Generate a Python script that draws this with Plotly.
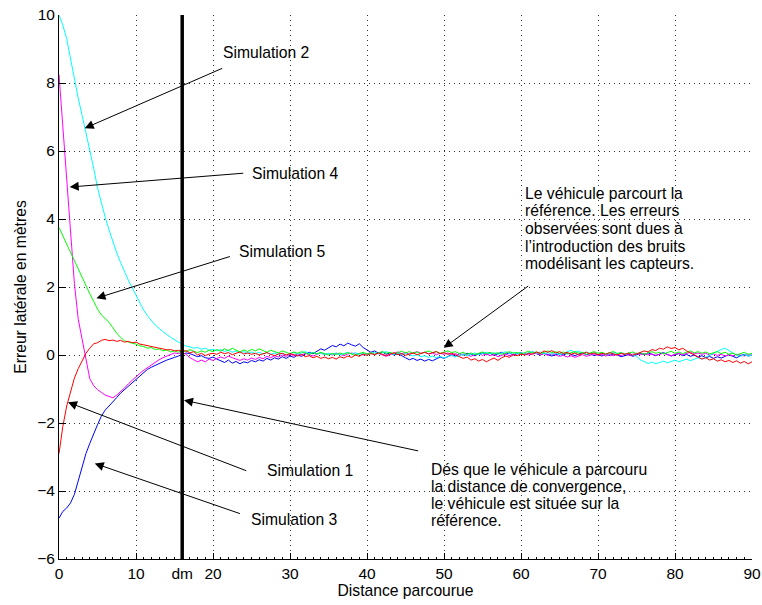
import plotly.graph_objects as go

# ---------------- data ----------------
step = 0.5
distance = [i * step for i in range(181)]  # 0 .. 90
dm = 16

sim1_start = [-2.9, -2.1, -1.5, -1.05, -0.68, -0.4, -0.18, 0.05, 0.2, 0.33,
              0.36, 0.43, 0.46, 0.42, 0.44, 0.4, 0.43, 0.38, 0.4, 0.36,
              0.38, 0.32, 0.3, 0.27, 0.25, 0.22, 0.2, 0.18, 0.15, 0.16,
              0.12, 0.14, 0.1, 0.13, 0.06, 0.1, 0.0, 0.05, -0.02, 0.03, 0.05]
sim1_rest = [0.02, 0.08, 0.04, 0.07, 0.01, 0.05, 0.09, 0.03, 0.06, 0.02,
             0.05, 0.0, 0.04, 0.07, 0.02, -0.02, 0.03, 0.05, 0.0, 0.04,
             0.01, -0.03, 0.02, -0.05, -0.02, -0.08, -0.04, -0.1, -0.06, -0.11,
             -0.07, -0.12, -0.05, -0.09, -0.03, -0.07, 0.0, -0.04, 0.03, -0.01,
             0.04, 0.01, 0.06, 0.02, -0.02, 0.03, 0.07, 0.01, 0.04, -0.01,
             0.03, 0.06, 0.01, 0.05, 0.08, 0.03, 0.06, 0.1, 0.04, 0.07,
             0.02, 0.05, 0.0, -0.04, -0.1, -0.06, -0.15, -0.11, -0.18, -0.13,
             -0.2, -0.14, -0.09, -0.16, -0.08, -0.03, -0.07, 0.01, -0.02, 0.03,
             0.0, 0.05, 0.02, 0.09, 0.05, 0.12, 0.08, 0.13, 0.06, 0.1,
             0.04, 0.08, 0.02, 0.06, 0.0, 0.04, 0.08, 0.03, 0.06, 0.01,
             0.05, 0.02, 0.07, 0.03, 0.0, 0.05, 0.02, 0.06, -0.01, 0.03,
             0.07, 0.12, 0.09, 0.16, 0.13, 0.2, 0.17, 0.24, 0.19, 0.22,
             0.15, 0.2, 0.12, 0.06, 0.0, -0.06, -0.12, -0.08, -0.15, -0.11,
             -0.18, -0.14, -0.2, -0.16, -0.22, -0.17, -0.24, -0.19, -0.26, -0.2]

sim2_start = [10.0, 9.7, 9.3, 8.7, 8.1, 7.55, 7.05, 6.55, 6.05, 5.5,
              4.92, 4.45, 4.05, 3.68, 3.32, 3.0, 2.72, 2.45, 2.2, 1.98,
              1.75, 1.52, 1.32, 1.15, 1.0, 0.88, 0.78, 0.68, 0.6, 0.52,
              0.44, 0.38, 0.32, 0.26, 0.24, 0.2, 0.22, 0.17, 0.2, 0.14, 0.17]
sim2_rest = [0.12, 0.16, 0.1, 0.14, 0.08, 0.12, 0.06, 0.1, 0.05, 0.09,
             0.04, 0.08, 0.03, 0.07, 0.02, 0.06, 0.01, 0.05, 0.0, 0.04,
             0.07, 0.02, 0.06, 0.1, 0.04, 0.08, 0.03, 0.06, 0.01, 0.05,
             0.02, 0.06, 0.0, 0.04, 0.08, 0.03, 0.07, 0.02, 0.05, 0.0,
             0.04, 0.08, 0.03, 0.06, 0.1, 0.05, 0.02, 0.06, 0.01, 0.04,
             0.0, -0.03, 0.01, -0.05, -0.02, -0.07, -0.03, -0.08, -0.04, -0.09,
             -0.05, -0.01, -0.06, -0.02, 0.02, -0.02, 0.03, 0.06, 0.01, 0.05,
             0.08, 0.03, 0.07, 0.02, 0.06, 0.1, 0.04, 0.08, 0.03, 0.07,
             0.02, 0.06, 0.1, 0.05, 0.09, 0.03, 0.07, 0.02, 0.06, 0.0,
             0.04, 0.09, 0.14, 0.08, 0.12, 0.05, 0.09, 0.03, 0.07, 0.02,
             0.06, 0.01, 0.05, 0.09, 0.04, 0.07, 0.02, 0.06, 0.0, -0.04,
             -0.14, -0.2, -0.25, -0.21, -0.26, -0.22, -0.18, -0.23, -0.19, -0.15,
             -0.2, -0.16, -0.12, -0.17, -0.13, -0.08, -0.12, -0.06, -0.02, 0.04,
             0.1, 0.16, 0.2, 0.12, 0.06, 0.0, -0.04, 0.01, -0.03, 0.0]

sim3_start = [-4.8, -4.6, -4.5, -4.35, -4.1, -3.7, -3.25, -2.9, -2.6, -2.3,
              -2.05, -1.8, -1.62, -1.5, -1.36, -1.25, -1.12, -1.02, -0.9, -0.8,
              -0.72, -0.6, -0.52, -0.42, -0.36, -0.3, -0.24, -0.2, -0.15, -0.1,
              -0.07, -0.03, 0.02, 0.06, 0.04, 0.0, -0.05, -0.02, -0.08, -0.1, -0.06]
sim3_rest = [-0.12, -0.18, -0.22, -0.15, -0.24, -0.19, -0.26, -0.2, -0.23, -0.16,
             -0.2, -0.14, -0.18, -0.1, -0.15, -0.08, -0.12, -0.05, -0.1, -0.03,
             -0.07, 0.0, -0.04, 0.03, 0.08, 0.04, 0.12, 0.18, 0.14, 0.22,
             0.28, 0.24, 0.32, 0.27, 0.35, 0.3, 0.26, 0.33, 0.22, 0.15,
             0.08, 0.12, 0.05, 0.09, 0.02, 0.06, 0.0, 0.04, -0.03, -0.08,
             -0.14, -0.1, -0.16, -0.12, -0.18, -0.13, -0.17, -0.11, -0.06, -0.1,
             -0.04, 0.01, -0.03, 0.04, 0.0, 0.05, 0.02, -0.02, 0.03, 0.06,
             0.01, 0.05, -0.01, 0.04, 0.08, 0.02, 0.06, 0.0, 0.04, 0.07,
             0.02, 0.06, 0.09, 0.04, 0.0, 0.05, 0.02, -0.03, 0.01, 0.04,
             0.0, 0.05, 0.02, -0.02, 0.03, 0.06, 0.01, 0.04, -0.02, 0.02,
             -0.03, 0.02, -0.01, 0.03, 0.0, -0.05, -0.02, 0.02, -0.04, 0.01,
             0.05, 0.01, 0.06, 0.02, -0.02, 0.03, 0.07, 0.02, -0.03, 0.01,
             0.04, -0.02, 0.02, -0.04, 0.0, -0.06, -0.02, -0.08, -0.04, -0.1,
             -0.05, -0.09, -0.03, 0.01, -0.04, -0.08, -0.02, 0.02, -0.03, 0.0]

sim4_start = [8.25, 6.7, 5.4, 3.7, 2.1, 1.05, 0.45, -0.2, -0.7, -0.9,
              -1.02, -1.1, -1.18, -1.22, -1.26, -1.18, -1.08, -0.97, -0.85, -0.74,
              -0.64, -0.54, -0.45, -0.37, -0.28, -0.22, -0.14, -0.08, -0.03, 0.02,
              0.06, 0.04, 0.08, 0.02, -0.08, -0.14, -0.2, -0.15, -0.2, -0.12, -0.16]
sim4_rest = [-0.1, -0.06, -0.1, -0.03, -0.08, -0.12, -0.16, -0.11, -0.15, -0.09,
             -0.13, -0.07, -0.11, -0.04, -0.08, -0.02, -0.06, 0.0, -0.04, 0.02,
             -0.02, 0.03, 0.0, 0.05, 0.01, -0.03, 0.02, 0.06, 0.01, 0.04,
             0.0, 0.05, 0.02, -0.02, 0.03, 0.06, 0.02, 0.05, 0.0, 0.04,
             0.07, 0.02, 0.05, 0.0, -0.04, 0.01, 0.05, 0.09, 0.04, 0.07,
             0.02, 0.06, 0.1, 0.05, 0.08, 0.03, 0.06, 0.01, 0.05, 0.02,
             0.06, 0.01, 0.04, -0.01, 0.03, 0.0, -0.04, 0.01, 0.04, -0.01,
             0.03, -0.02, 0.02, -0.05, -0.01, 0.03, -0.02, 0.02, 0.05, 0.01,
             0.04, 0.0, 0.03, 0.06, 0.01, 0.04, -0.01, 0.03, 0.0, -0.04,
             -0.01, -0.06, -0.02, -0.07, -0.03, 0.01, -0.04, 0.0, 0.03, -0.01,
             0.02, -0.03, 0.01, -0.02, 0.02, -0.02, 0.03, -0.01, 0.02, 0.05,
             0.01, 0.04, 0.0, 0.03, -0.01, 0.02, 0.05, 0.01, -0.02, 0.02,
             0.05, 0.01, 0.04, 0.08, 0.03, 0.06, 0.02, 0.05, 0.0, 0.03,
             -0.01, 0.02, -0.03, 0.01, -0.02, 0.02, 0.0, -0.03, 0.01, -0.01]

sim5_start = [3.75, 3.5, 3.28, 3.05, 2.75, 2.52, 2.28, 2.05, 1.8, 1.58,
              1.35, 1.18, 1.06, 0.96, 0.8, 0.64, 0.52, 0.42, 0.38, 0.36,
              0.32, 0.27, 0.25, 0.2, 0.22, 0.16, 0.18, 0.12, 0.15, 0.09,
              0.12, 0.08, 0.13, 0.1, 0.16, 0.11, 0.07, 0.12, 0.08, 0.14, 0.1]
sim5_rest = [0.16, 0.11, 0.18, 0.13, 0.2, 0.14, 0.09, 0.15, 0.1, 0.17,
             0.12, 0.18, 0.13, 0.08, 0.14, 0.1, 0.06, 0.12, 0.08, 0.04,
             0.09, 0.05, 0.1, 0.06, 0.02, 0.07, 0.03, 0.08, 0.04, 0.0,
             0.05, 0.01, 0.06, 0.02, 0.07, 0.03, -0.01, 0.04, 0.08, 0.03,
             0.07, 0.02, 0.06, 0.1, 0.05, 0.08, 0.03, 0.07, 0.11, 0.06,
             0.1, 0.05, 0.09, 0.04, 0.08, 0.12, 0.07, 0.1, 0.05, 0.09,
             0.12, 0.07, 0.1, 0.04, 0.08, 0.02, 0.06, 0.01, 0.05, 0.09,
             0.04, 0.08, 0.03, 0.07, 0.02, 0.06, 0.1, 0.05, 0.08, 0.03,
             0.07, 0.11, 0.06, 0.09, 0.04, 0.08, 0.12, 0.07, 0.1, 0.05,
             0.09, 0.03, 0.07, 0.1, 0.05, 0.08, 0.02, 0.06, 0.1, 0.05,
             0.08, 0.03, 0.06, 0.1, 0.04, 0.07, 0.02, 0.05, 0.09, 0.04,
             0.07, 0.02, 0.06, 0.1, 0.05, 0.08, 0.03, 0.07, 0.11, 0.05,
             0.09, 0.04, 0.08, 0.12, 0.06, 0.1, 0.05, 0.09, 0.03, 0.07,
             0.1, 0.04, 0.08, 0.02, 0.06, 0.0, 0.04, 0.08, 0.02, 0.05]

x_tick_vals = [0, 10, dm, 20, 30, 40, 50, 60, 70, 80, 90]
x_tick_text = ["0", "10", "dm", "20", "30", "40", "50", "60", "70", "80", "90"]

series = [
    ("Simulation 3", sim3_start + sim3_rest, "#0000FF"),
    ("Simulation 4", sim4_start + sim4_rest, "#FF00FF"),
    ("Simulation 2", sim2_start + sim2_rest, "#00FFFF"),
    ("Simulation 5", sim5_start + sim5_rest, "#00FF00"),
    ("Simulation 1", sim1_start + sim1_rest, "#FF0000"),
]

FONT = "Liberation Sans, Arial, Helvetica, sans-serif"
ANN_SIZE = 15.7

fig = go.Figure()
for name, vals, col in series:
    fig.add_trace(go.Scatter(x=distance, y=vals, mode="lines", name=name,
                             line=dict(color=col, width=1)))

fig.add_trace(go.Scatter(x=[dm, dm], y=[-6, 10], mode="lines",
                         line=dict(color="black", width=3.5), name="dm"))

# arrows: (head_x, head_y, tail_x, tail_y)
arrows = [
    (3.34, 6.67, 21.39, 8.45),
    (1.39, 4.94, 24.12, 5.35),
    (4.86, 1.67, 22.39, 2.91),
    (1.17, -1.39, 24.51, -3.42),
    (4.64, -3.19, 23.69, -4.68),
    (16.23, -1.33, 46.84, -2.83),
    (49.96, 0.21, 61.13, 2.06),
]
annotations = []
for hx, hy, tx, ty in arrows:
    annotations.append(dict(x=hx, y=hy, ax=tx, ay=ty, xref="x", yref="y",
                            axref="x", ayref="y", text="", showarrow=True,
                            arrowhead=2, arrowsize=1.8, arrowwidth=1,
                            arrowcolor="black", standoff=0))

labels = [
    ("Simulation 2", 21.09, 8.89),
    ("Simulation 4", 24.77, 5.35),
    ("Simulation 5", 23.12, 3.04),
    ("Simulation 1", 26.71, -3.41),
    ("Simulation 3", 24.68, -4.85),
]
block1 = ["Le véhicule parcourt la", "référence. Les erreurs",
          "observées sont dues à", "l’introduction des bruits",
          "modélisant les capteurs."]
block1_y = [4.76, 4.24, 3.72, 3.20, 2.68]
block2 = ["Dés que le véhicule a parcouru", "la distance de convergence,",
          "le véhicule est située sur la", "référence."]
block2_y = [-3.36, -3.86, -4.36, -4.86]

def text_ann(t, x, y):
    return dict(x=x, y=y, text=t, showarrow=False, xanchor="left",
                yanchor="middle", xref="x", yref="y",
                font=dict(size=ANN_SIZE, family=FONT, color="black"))

for t, x, y in labels:
    annotations.append(text_ann(t, x, y))
for t, y in zip(block1, block1_y):
    annotations.append(text_ann(t, 60.26, y))
for t, y in zip(block2, block2_y):
    annotations.append(text_ann(t, 48.05, y))

fig.update_layout(
    width=762, height=605,
    margin=dict(l=59, r=10, t=15, b=46),
    plot_bgcolor="white", paper_bgcolor="white",
    showlegend=False,
    font=dict(family=FONT, size=15, color="black"),
    annotations=annotations,
)
grid_kw = dict(showgrid=True, gridcolor="#333333", griddash="1px,4px", gridwidth=1,
               zeroline=False, showline=True, linecolor="black", linewidth=1,
               ticks="inside", tickcolor="black", automargin=False)
fig.update_xaxes(range=[0, 90], tickvals=x_tick_vals, ticktext=x_tick_text,
                 ticklen=6,
                 minor=dict(ticks="inside", ticklen=2, dtick=1, tickcolor="black",
                            showgrid=False),
                 title=dict(text="Distance parcourue", font=dict(size=ANN_SIZE), standoff=4),
                 tickfont=dict(size=15.5), **grid_kw)
fig.update_yaxes(range=[-6, 10], dtick=2, ticklen=7,
                 title=dict(text="Erreur latérale en mètres", font=dict(size=ANN_SIZE),
                            standoff=6),
                 tickfont=dict(size=15.5), **grid_kw)

fig.write_html("out.html",
               config={"displayModeBar": False},
               post_script="document.body.style.margin='0px';"
                           "document.body.style.overflow='hidden';")
